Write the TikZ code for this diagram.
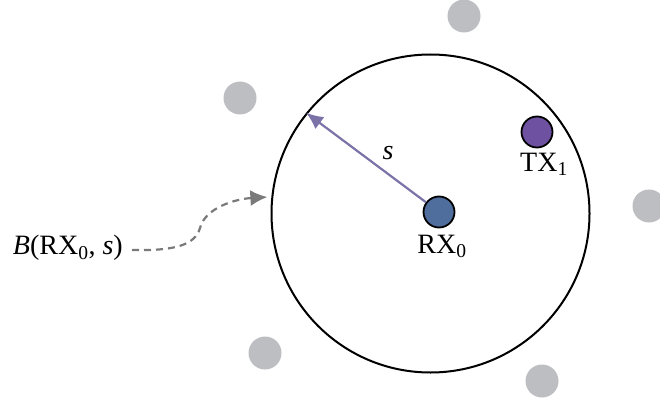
\documentclass[tikz,border=0pt]{standalone}
\usepackage{fontspec}
\setmainfont{Liberation Serif}
\usetikzlibrary{arrows.meta}
\definecolor{dotgray}{HTML}{BDBEC1}
\definecolor{rxblue}{HTML}{4F6E9E}
\definecolor{txpurple}{HTML}{6E51A1}
\definecolor{arrowpurple}{HTML}{7B72A8}
\definecolor{dashgray}{HTML}{7A7A7A}
\begin{document}
\begin{tikzpicture}[x=1pt,y=-1pt,
  lbl/.style={font=\fontsize{28}{32}\selectfont, inner sep=0pt},
  graydot/.style={circle, fill=dotgray, minimum size=33pt, inner sep=0pt},
  nodedot/.style={circle, draw=black, line width=1.8pt, minimum size=31pt, inner sep=0pt},
  ball/.style={circle, draw=black, line width=2pt, minimum size=318pt, inner sep=0pt},
  radius arrow/.style={draw=arrowpurple, line width=2.2pt, -{Latex[length=17pt,width=15pt]}},
  dash arrow/.style={draw=dashgray, line width=2.2pt, dash pattern=on 7pt off 5pt, -{Latex[length=17pt,width=16pt]}, shorten >=4pt}]
\useasboundingbox (0,0) rectangle (660,403);
% background gray points
\node[graydot] (g1) at (464,16) {};
\node[graydot] (g2) at (240,98) {};
\node[graydot] (g3) at (649,206) {};
\node[graydot] (g4) at (265,353) {};
\node[graydot] (g5) at (542,381) {};
% ball
\node[ball] (B) at (430.5,213.5) {};
% receiver and transmitter
\node[nodedot, fill=rxblue] (rx) at (439,212) {};
\node[lbl, anchor=north] (rxl) at (442,235) {RX\textsubscript{0}};
\node[lbl, anchor=north] (txl) at (544,153) {TX\textsubscript{1}};
\node[nodedot, fill=txpurple] (tx) at (537,132) {};
% radius arrow
\coordinate (tip) at (B.141.5);
\draw[radius arrow] (rx) -- (tip);
\node[lbl] (s) at (388,153) {\textit{s}};
% ball label
\node[lbl, anchor=east] (bl) at (123,248) {\textit{B}(RX\textsubscript{0}, \textit{s})};
\draw[dash arrow] (bl.east) ++(9,2) .. controls (175,251) and (195,245) .. (200,228)
  .. controls (205,208) and (235,199) .. (B.174);
\end{tikzpicture}
\end{document}
